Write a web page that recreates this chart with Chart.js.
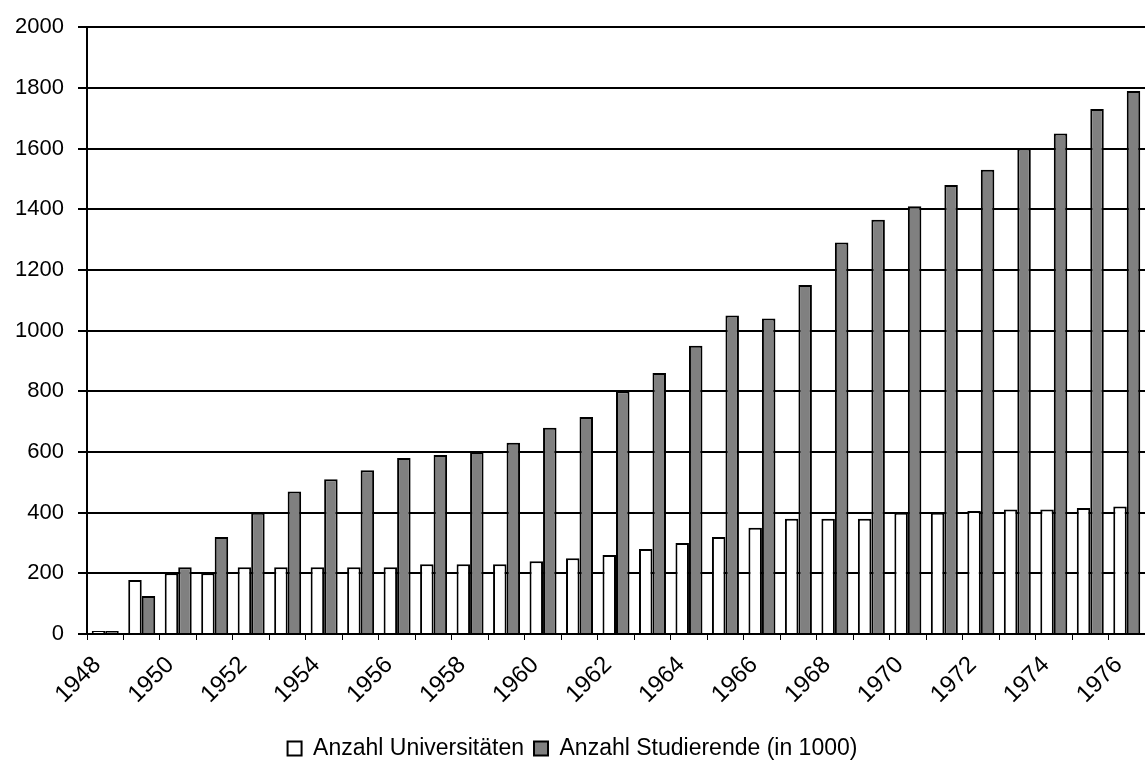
<!DOCTYPE html>
<html>
<head>
<meta charset="utf-8">
<script src="https://cdn.jsdelivr.net/npm/chart.js@4.4.1/dist/chart.umd.min.js"></script>
<style>
    html, body { margin: 0; padding: 0; background: #fff; overflow: hidden; }
    #wrap { width: 1145px; height: 772px; }
</style>
</head>
<body>
<div id="wrap"><canvas id="chart" width="1145" height="772"></canvas></div>
<script>
const years = ['1948', '1949', '1950', '1951', '1952', '1953', '1954', '1955', '1956', '1957',
    '1958', '1959', '1960', '1961', '1962', '1963', '1964', '1965', '1966', '1967',
    '1968', '1969', '1970', '1971', '1972', '1973', '1974', '1975', '1976'];
const universitaeten = [10, 178, 200, 200, 220, 220, 220, 220, 220, 230,
    230, 230, 240, 250, 260, 280, 300, 320, 350, 380,
    380, 380, 400, 400, 405, 410, 410, 415, 420];
const studierende = [10, 125, 220, 320, 400, 470, 510, 540, 580, 590,
    600, 630, 680, 715, 800, 860, 950, 1050, 1040, 1150,
    1290, 1365, 1410, 1480, 1530, 1600, 1650, 1730, 1790];
const seriesNames = ['Anzahl Universitäten', 'Anzahl Studierende (in 1000)'];

Chart.defaults.font.family = '"Liberation Sans", Arial, sans-serif';
Chart.defaults.font.size = 22;
Chart.defaults.color = '#000';

new Chart(document.getElementById('chart'), {
    type: 'bar',
    data: {
        labels: years,
        datasets: [
            { label: seriesNames[0], data: universitaeten, backgroundColor: '#ffffff', borderColor: '#000', borderWidth: 2 },
            { label: seriesNames[1], data: studierende, backgroundColor: '#808080', borderColor: '#000', borderWidth: 2 }
        ]
    },
    options: {
        responsive: false,
        animation: false,
        datasets: { bar: { categoryPercentage: 0.74, barPercentage: 1.0 } },
        layout: { padding: { top: 20, left: 0, right: 0, bottom: 2 } },
        plugins: {
            tooltip: { enabled: false },
            legend: {
                position: 'bottom',
                labels: { boxWidth: 14, boxHeight: 14, padding: 10, font: { size: 23 } }
            }
        },
        scales: {
            x: {
                offset: true,
                grid: { offset: true, drawOnChartArea: false, drawTicks: true, tickLength: 6, color: '#000', lineWidth: 1 },
                border: { color: '#000', width: 2 },
                ticks: {
                    autoSkip: false, minRotation: 45, maxRotation: 45, padding: 11, labelOffset: -8,
                    font: { size: 24 },
                    callback: (v, i) => (i % 2 === 0 ? years[i] : '')
                },
                afterFit: s => { s.height = 93; s.paddingLeft = 0; s.paddingRight = 0; }
            },
            y: {
                min: 0, max: 2000,
                grid: { color: '#000', lineWidth: 2, tickLength: 9 },
                border: { color: '#000', width: 2 },
                ticks: { stepSize: 200, padding: 14, font: { size: 22 }, callback: v => String(v) },
                afterFit: s => { s.width = 87; }
            }
        }
    }
});
</script>
</body>
</html>
